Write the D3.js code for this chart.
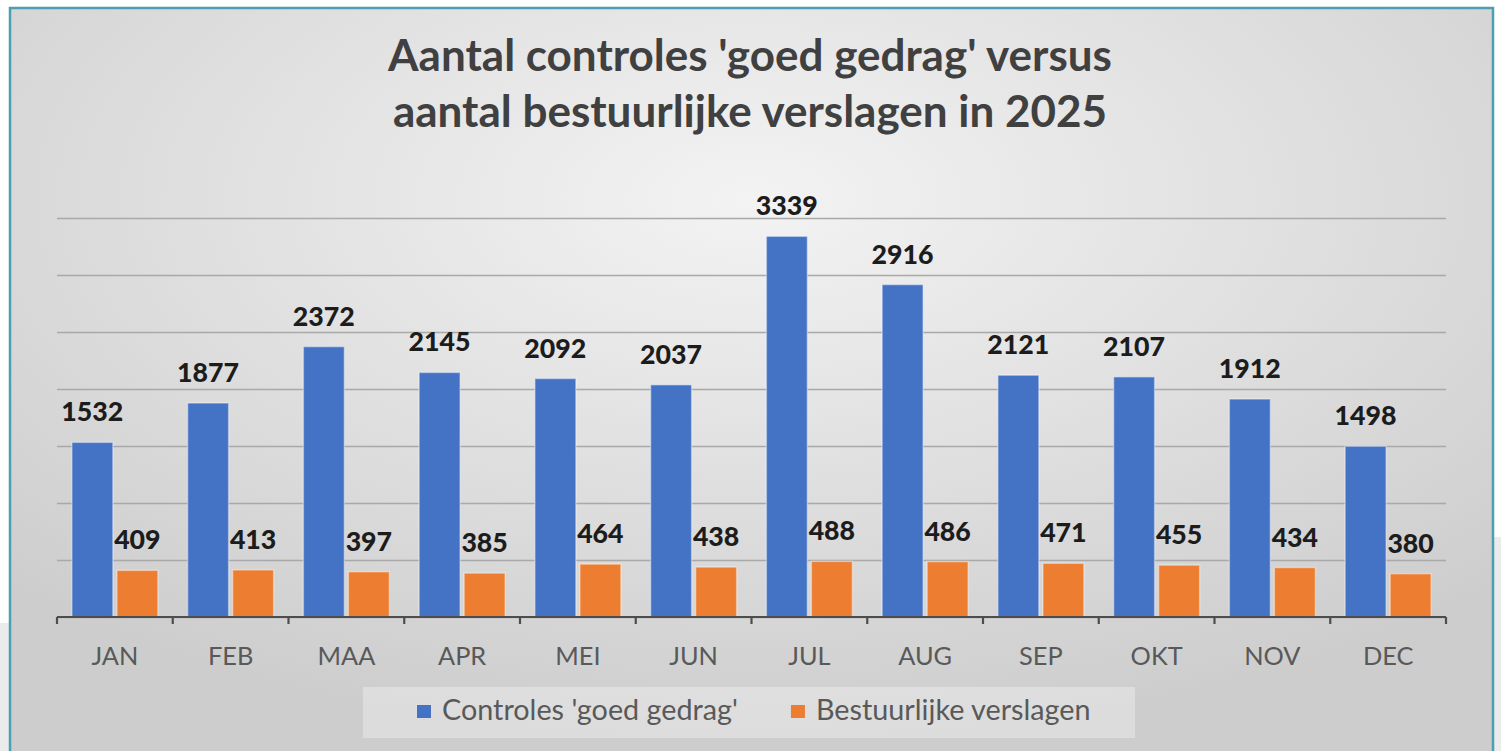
<!DOCTYPE html>
<html>
<head>
<meta charset="utf-8">
<script src="https://cdn.jsdelivr.net/npm/d3@7"></script>
<style>
  html, body { margin: 0; padding: 0; background: #fff; }
  svg { display: block; font-family: Lato, "Open Sans", sans-serif; }
</style>
</head>
<body>
<div id="chart"></div>
<script>
// chart data
let months = ['JAN', 'FEB', 'MAA', 'APR', 'MEI', 'JUN', 'JUL', 'AUG', 'SEP', 'OKT', 'NOV', 'DEC'];
let controles = [1532, 1877, 2372, 2145, 2092, 2037, 3339, 2916, 2121, 2107, 1912, 1498];
let verslagen = [409, 413, 397, 385, 464, 438, 488, 486, 471, 455, 434, 380];
let seriesNames = ["Controles 'goed gedrag'", 'Bestuurlijke verslagen'];
let seriesColors = ['#4472c4', '#ed7d31'];
let yTicks = [0, 500, 1000, 1500, 2000, 2500, 3000, 3500];
let titleLines = ["Aantal controles 'goed gedrag' versus", 'aantal bestuurlijke verslagen in 2025'];

let w = 1501;
let h = 751;

let svg = d3.select('#chart')
  .append('svg')
  .attr('width', w)
  .attr('height', h);

// pick a font size so that a text gets a wanted width
function fitSize(str, weight, target) {
  let t = svg.append('text')
    .attr('font-size', 100)
    .attr('font-weight', weight)
    .text(str);
  let len = t.node().getComputedTextLength();
  t.remove();
  return 100 * target / len;
}

// page outside the chart frame
svg.append('rect').attr('x', 0).attr('y', 623).attr('width', 12).attr('height', h - 623).attr('fill', '#ebebeb');
svg.append('rect').attr('x', 1494).attr('y', 537).attr('width', 7).attr('height', h - 537).attr('fill', '#ebebeb');

let defs = svg.append('defs');
let grad = defs.append('radialGradient')
  .attr('id', 'bg')
  .attr('cx', '50%').attr('cy', '25%').attr('r', '72%');
grad.append('stop').attr('offset', '0%').attr('stop-color', '#f3f3f3');
grad.append('stop').attr('offset', '50%').attr('stop-color', '#e0e0e0');
grad.append('stop').attr('offset', '100%').attr('stop-color', '#cdcdcd');

svg.append('rect')
  .attr('x', 10).attr('y', 8)
  .attr('width', 1483).attr('height', 760)
  .attr('fill', 'url(#bg)')
  .attr('stroke', '#4a9fb4')
  .attr('stroke-width', 2.5);

// title
let titleSize = fitSize(titleLines[0], 'bold', 724);
svg.append('g')
  .selectAll('text')
  .data(titleLines)
  .enter()
  .append('text')
  .attr('x', 750)
  .attr('y', function(d, i) { return 71 + i * 56; })
  .attr('text-anchor', 'middle')
  .attr('font-size', titleSize)
  .attr('font-weight', 'bold')
  .attr('fill', '#404040')
  .text(function(d) { return d; });

// scales
let plotLeft = 57, plotRight = 1446, plotBottom = 617, plotTop = 218;
let x0 = d3.scaleBand()
  .domain(months)
  .range([plotLeft, plotRight]);
let x1 = d3.scaleBand()
  .domain([0, 1])
  .range([0, x0.bandwidth()])
  .paddingInner(0.089)
  .paddingOuter(0.33);
let y = d3.scaleLinear()
  .domain([0, 3500])
  .range([plotBottom, plotTop]);

// gridlines
svg.append('g')
  .attr('transform', 'translate(' + plotLeft + ',0)')
  .call(d3.axisLeft(y).tickValues(yTicks).tickSize(-(plotRight - plotLeft)).tickFormat(''))
  .call(function(g) {
    g.select('.domain').remove();
    g.selectAll('line').attr('stroke', '#a9a9a9').attr('stroke-width', 1.6);
  });

// bars
let rows = months.map(function(m, i) {
  return { month: m, values: [controles[i], verslagen[i]] };
});

let groups = svg.append('g')
  .selectAll('g')
  .data(rows)
  .enter()
  .append('g')
  .attr('transform', function(d) { return 'translate(' + x0(d.month) + ',0)'; });

groups.selectAll('rect')
  .data(function(d) { return d.values; })
  .enter()
  .append('rect')
  .attr('x', function(d, i) { return x1(i); })
  .attr('y', function(d) { return y(d); })
  .attr('width', x1.bandwidth())
  .attr('height', function(d) { return plotBottom - y(d); })
  .attr('fill', function(d, i) { return seriesColors[i]; })
  .attr('stroke', 'rgba(255,255,255,0.4)')
  .attr('stroke-width', 1.5);

let labelSize = fitSize('1532', 'bold', 62);
groups.selectAll('text')
  .data(function(d) { return d.values; })
  .enter()
  .append('text')
  .attr('x', function(d, i) { return x1(i) + x1.bandwidth() / 2; })
  .attr('y', function(d) { return y(d) - 21; })
  .attr('text-anchor', 'middle')
  .attr('font-size', labelSize)
  .attr('font-weight', 900)
  .attr('fill', '#1c1c1c')
  .text(function(d) { return d; });

// category axis
let axisSize = fitSize('JAN', 'normal', 47);
let tickXs = months.map(function(m) { return x0(m); }).concat([plotRight]);
let axisG = svg.append('g');
axisG.append('line')
  .attr('x1', plotLeft).attr('x2', plotRight)
  .attr('y1', plotBottom).attr('y2', plotBottom)
  .attr('stroke', '#4d4d4d').attr('stroke-width', 2.2);
axisG.selectAll('.tick')
  .data(tickXs)
  .enter()
  .append('line')
  .attr('x1', function(d) { return d; })
  .attr('x2', function(d) { return d; })
  .attr('y1', plotBottom).attr('y2', plotBottom + 7)
  .attr('stroke', '#4d4d4d').attr('stroke-width', 2.2);
axisG.selectAll('text')
  .data(months)
  .enter()
  .append('text')
  .attr('x', function(d) { return x0(d) + x0.bandwidth() / 2; })
  .attr('y', 665)
  .attr('text-anchor', 'middle')
  .attr('font-size', axisSize)
  .attr('fill', '#595959')
  .text(function(d) { return d; });

// legend
let legendSize = fitSize(seriesNames[0], 'normal', 296);
svg.append('rect')
  .attr('x', 363).attr('y', 687)
  .attr('width', 772).attr('height', 51)
  .attr('fill', '#f0f0f0')
  .attr('opacity', 0.45);

let lx = 417;
seriesNames.forEach(function(name, i) {
  svg.append('rect')
    .attr('x', lx).attr('y', 705)
    .attr('width', 14).attr('height', 13)
    .attr('fill', seriesColors[i]);
  let t = svg.append('text')
    .attr('x', lx + 25)
    .attr('y', 720)
    .attr('font-size', legendSize)
    .attr('fill', '#595959')
    .text(name);
  lx = lx + 25 + t.node().getComputedTextLength() + 53;
});
</script>
</body>
</html>
